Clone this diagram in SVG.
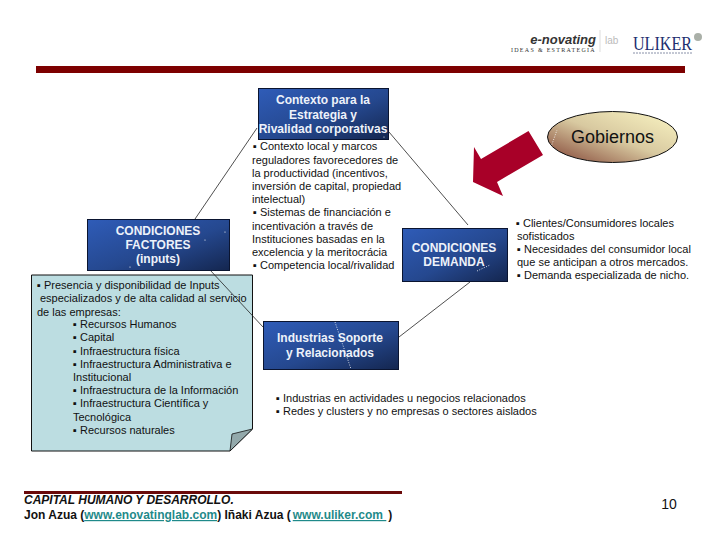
<svg xmlns="http://www.w3.org/2000/svg" width="720" height="540" viewBox="0 0 720 540">
<style>
text{font-family:"Liberation Sans",Arial,sans-serif;fill:#111}
.b{font-size:11px}
.h{font-size:12px;font-weight:bold;fill:#eef2fa;text-anchor:middle}
.box{fill:url(#blue);stroke:#0a1430;stroke-width:1}
.conn line{stroke:#222;stroke-width:.8}
.dots{stroke:#fff;stroke-width:.8;stroke-dasharray:1 1.5;fill:none}
.dot{fill:#fff}
.foot{font-size:12px;font-weight:bold}
.link{fill:#1f8a8a;text-decoration:underline}
</style>
<defs>
<linearGradient id="blue" x1="0" y1="0" x2="1" y2="1"><stop offset="0" stop-color="#2f5cb8"/><stop offset=".55" stop-color="#25488f"/><stop offset="1" stop-color="#14264f"/></linearGradient>
<linearGradient id="oval" x1="0" y1="1" x2="1" y2="0"><stop offset="0" stop-color="#7f3f32"/><stop offset=".5" stop-color="#d8c9a0"/><stop offset="1" stop-color="#fbf6c4"/></linearGradient>
</defs>
<rect width="720" height="540" fill="#fff"/>
<g id="logos">
<text x="596" y="44" font-size="13" font-weight="bold" font-style="italic" text-anchor="end" style="fill:#333">e-novating</text>
<text x="596" y="52" font-size="6" text-anchor="end" letter-spacing="1.3" style="font-family:'Liberation Serif',serif;fill:#333">IDEAS &amp; ESTRATEGIA</text>
<line x1="600" y1="30" x2="600" y2="52" stroke="#ddd" stroke-width="1"/>
<text x="605" y="44" font-size="10" style="fill:#bbb">lab</text>
<text x="633" y="50" font-size="18" textLength="59" lengthAdjust="spacingAndGlyphs" style="font-family:'Liberation Serif',serif;fill:#1d2f70">ULIKER</text>
<line x1="633" y1="53" x2="692" y2="53" stroke="#8890a8" stroke-width="1" stroke-dasharray="2 1"/>
<circle cx="698" cy="37" r="4" fill="#aab0a8"/>
</g>
<rect x="36" y="66" width="649" height="7" fill="#7d0000"/>
<g id="connectors" class="conn">
<line x1="257" y1="128" x2="195" y2="219"/>
<line x1="389" y1="132" x2="468" y2="225"/>
<line x1="470" y1="282" x2="399" y2="337"/>
</g>
<g id="note-inputs">
<path d="M31.5 275H252.5V429L230 451H31.5Z" fill="#bcdde1" stroke="#111" stroke-width="1"/>
<path d="M252.5 429L232 434L230 451Z" fill="#93a9ab" stroke="#111" stroke-width=".8"/>
<g class="b">
<text x="37" y="289">▪ Presencia y disponibilidad de Inputs</text>
<text x="40" y="302">especializados y de alta calidad al servicio</text>
<text x="37" y="316">de las empresas:</text>
<text x="73" y="328">▪ Recursos Humanos</text>
<text x="73" y="341">▪ Capital</text>
<text x="73" y="355">▪ Infraestructura física</text>
<text x="73" y="368">▪ Infraestructura Administrativa e</text>
<text x="73" y="381">Institucional</text>
<text x="73" y="394">▪ Infraestructura de la Información</text>
<text x="73" y="407">▪ Infraestructura Científica y</text>
<text x="73" y="421">Tecnológica</text>
<text x="73" y="434">▪ Recursos naturales</text>
</g>
</g>
<g class="conn"><line x1="210" y1="270" x2="263" y2="327"/></g>
<g id="node-contexto">
<rect class="box" x="258.5" y="88.5" width="130" height="51"/>
<text class="h" x="323" y="104">Contexto para la</text>
<text class="h" x="323" y="119">Estrategia y</text>
<text class="h" x="323" y="133">Rivalidad corporativas</text>
<circle class="dot" cx="384" cy="137" r=".6"/>
</g>
<g id="text-contexto" class="b">
<text x="253" y="150">▪ Contexto local y marcos</text>
<text x="252" y="164">reguladores favorecedores de</text>
<text x="252" y="177">la productividad (incentivos,</text>
<text x="252" y="190">inversión de capital, propiedad</text>
<text x="252" y="203">intelectual)</text>
<text x="253" y="216">▪ Sistemas de financiación e</text>
<text x="252" y="230">incentivación a través de</text>
<text x="252" y="243">Instituciones basadas en la</text>
<text x="252" y="256">excelencia y la meritocrácia</text>
<text x="253" y="269">▪ Competencia local/rivalidad</text>
</g>
<g id="node-factores">
<rect class="box" x="87.5" y="219.5" width="142" height="51"/>
<text class="h" x="158" y="235">CONDICIONES</text>
<text class="h" x="158" y="249">FACTORES</text>
<text class="h" x="158" y="263">(inputs)</text>
<circle class="dot" cx="225" cy="232" r=".6"/>
<circle class="dot" cx="205" cy="240" r=".6"/>
<circle class="dot" cx="130" cy="267" r=".6"/>
</g>
<g id="node-demanda">
<rect class="box" x="402.5" y="228.5" width="105" height="53"/>
<text class="h" x="454" y="252">CONDICIONES</text>
<text class="h" x="454" y="266">DEMANDA</text>
<line class="dots" x1="477" y1="271" x2="490" y2="265"/>
</g>
<g id="text-demanda" class="b">
<text x="516" y="227">▪ Clientes/Consumidores locales</text>
<text x="517" y="240">sofisticados</text>
<text x="517" y="253">▪ Necesidades del consumidor local</text>
<text x="517" y="266">que se anticipan a otros mercados.</text>
<text x="517" y="279">▪ Demanda especializada de nicho.</text>
</g>
<g id="node-industrias">
<rect class="box" x="263.5" y="321.5" width="135" height="48"/>
<text class="h" x="330" y="342">Industrias Soporte</text>
<text class="h" x="330" y="357">y Relacionados</text>
<line class="dots" x1="335" y1="322" x2="351" y2="369"/>
</g>
<g id="text-industrias" class="b">
<text x="276" y="402">▪ Industrias en actividades u negocios relacionados</text>
<text x="276" y="415">▪ Redes y clusters y no empresas o sectores aislados</text>
</g>
<g id="node-gobiernos">
<ellipse cx="612.5" cy="137" rx="65" ry="25.5" fill="url(#oval)" stroke="#111" stroke-width="1"/>
<text x="612.5" y="143" font-size="18" text-anchor="middle">Gobiernos</text>
<line class="dots" x1="551" y1="147" x2="557" y2="130"/>
</g>
<polygon id="arrow" points="528.5,131 543,155 497,182 503,196 473,182 474,147 481,159" fill="#a80028"/>
<rect x="24" y="491" width="378" height="3" fill="#6a0a0a"/>
<g id="footer" class="foot">
<text x="24" y="504" font-style="italic">CAPITAL HUMANO Y DESARROLLO.</text>
<text x="24" y="519">Jon Azua (<tspan class="link">www.enovatinglab.com</tspan>) Iñaki Azua (<tspan class="link" dx="2">www.uliker.com </tspan><tspan dx="2">)</tspan></text>
</g>
<text x="669" y="509" font-size="14" text-anchor="middle">10</text>
</svg>
